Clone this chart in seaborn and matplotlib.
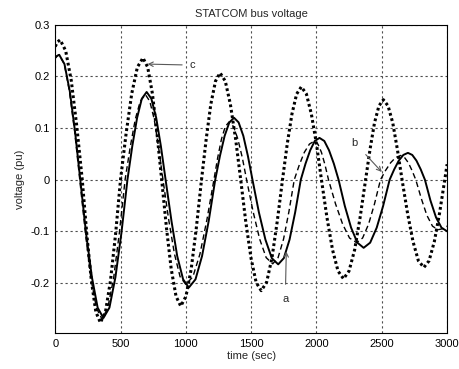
import numpy as np
import pandas as pd
import matplotlib
matplotlib.use("Agg")
import matplotlib.pyplot as plt
import seaborn as sns

# ---- data ----
t_a = [0, 15, 31, 71, 112, 152, 192, 236, 281, 325, 369, 415, 461, 507, 553, 590, 627, 663, 700,
       736, 773, 809, 845, 890, 934, 979, 1023, 1074, 1124, 1175, 1225, 1261, 1297, 1333, 1369,
       1404, 1440, 1475, 1510, 1559, 1609, 1658, 1707, 1750, 1794, 1837, 1880, 1916, 1952, 1987, 2023,
       2060, 2096, 2133, 2169, 2217, 2265, 2313, 2361, 2411, 2461, 2510, 2560, 2595, 2630, 2665, 2700,
       2733, 2765, 2798, 2830, 2872, 2915, 2957, 3000]
v_a = [0.236, 0.240, 0.242, 0.224, 0.171, 0.093, 0.0, -0.103, -0.189, -0.248, -0.268, -0.248, -0.189, -0.103, 0.0,
       0.065, 0.120, 0.157, 0.170, 0.157, 0.120, 0.065, 0.0, -0.080, -0.148, -0.193, -0.209, -0.193, -0.148, -0.080, 0.0,
       0.046, 0.085, 0.111, 0.120, 0.111, 0.085, 0.046, 0.0, -0.063, -0.116, -0.152, -0.164, -0.152, -0.116, -0.063, 0.0,
       0.031, 0.057, 0.075, 0.081, 0.075, 0.057, 0.031, 0.0, -0.051, -0.093, -0.122, -0.132, -0.122, -0.093, -0.051, 0.0,
       0.020, 0.037, 0.048, 0.052, 0.048, 0.037, 0.020, 0.0, -0.040, -0.073, -0.093, -0.100]

t_b = [0, 15, 30, 70, 109, 149, 188, 231, 273, 316, 358, 402, 447, 491, 535, 574, 613, 651, 690,
       724, 758, 791, 825, 869, 913, 956, 1000, 1054, 1108, 1161, 1215, 1244, 1273, 1302, 1331,
       1365, 1398, 1432, 1465, 1515, 1565, 1615, 1665, 1706, 1748, 1789, 1830, 1869, 1907, 1946, 1984,
       2011, 2038, 2065, 2092, 2146, 2200, 2253, 2307, 2353, 2399, 2444, 2490, 2529, 2568, 2606, 2645,
       2674, 2703, 2731, 2760, 2803, 2845, 2888, 2930, 2965, 3000]
v_b = [0.236, 0.240, 0.242, 0.224, 0.171, 0.093, 0.0, -0.103, -0.191, -0.249, -0.270, -0.249, -0.191, -0.103, 0.0,
       0.063, 0.117, 0.152, 0.165, 0.152, 0.117, 0.063, 0.0, -0.078, -0.144, -0.188, -0.203, -0.188, -0.144, -0.078, 0.0,
       0.043, 0.079, 0.103, 0.112, 0.103, 0.079, 0.043, 0.0, -0.062, -0.115, -0.151, -0.163, -0.151, -0.115, -0.062, 0.0,
       0.029, 0.053, 0.069, 0.075, 0.069, 0.053, 0.029, 0.0, -0.047, -0.086, -0.113, -0.122, -0.113, -0.086, -0.047, 0.0,
       0.018, 0.033, 0.043, 0.047, 0.043, 0.033, 0.018, 0.0, -0.037, -0.069, -0.090, -0.097, -0.095, -0.090]

t_c = [0, 18, 38, 80, 123, 165, 207, 242, 277, 311, 346, 385, 423, 462, 500, 543, 586, 629, 672,
       708, 744, 779, 815, 852, 888, 925, 961, 1001, 1041, 1080, 1120, 1156, 1191, 1227, 1262,
       1302, 1341, 1381, 1420, 1459, 1499, 1538, 1577, 1618, 1659, 1699, 1740, 1776, 1812, 1848, 1884,
       1923, 1961, 2000, 2038, 2080, 2123, 2165, 2207, 2249, 2292, 2334, 2376, 2410, 2444, 2478, 2512,
       2548, 2584, 2619, 2655, 2697, 2739, 2780, 2822, 2862, 2902, 2942, 2982, 3000]
v_c = [0.258, 0.267, 0.271, 0.250, 0.192, 0.104, 0.0, -0.106, -0.196, -0.256, -0.277, -0.256, -0.196, -0.106, 0.0,
       0.090, 0.167, 0.218, 0.236, 0.218, 0.167, 0.090, 0.0, -0.094, -0.173, -0.226, -0.245, -0.226, -0.173, -0.094, 0.0,
       0.079, 0.146, 0.191, 0.207, 0.191, 0.146, 0.079, 0.0, -0.082, -0.152, -0.199, -0.215, -0.199, -0.152, -0.082, 0.0,
       0.069, 0.127, 0.166, 0.180, 0.166, 0.127, 0.069, 0.0, -0.073, -0.136, -0.177, -0.192, -0.177, -0.136, -0.073, 0.0,
       0.059, 0.110, 0.143, 0.155, 0.143, 0.110, 0.059, 0.0, -0.065, -0.120, -0.157, -0.170, -0.157, -0.120, -0.065, 0.0,
       0.030]

x_ticks = [0, 500, 1000, 1500, 2000, 2500, 3000]
y_ticks = [-0.2, -0.1, 0, 0.1, 0.2, 0.3]
y_tick_labels = ["-0.2", "-0.1", "0", "0.1", "0.2", "0.3"]
x_tick_labels = ["0", "500", "1000", "1500", "2000", "2500", "3000"]

title = "STATCOM bus voltage"
xlabel = "time (sec)"
ylabel = "voltage (pu)"

df_a = pd.DataFrame({"t": t_a, "v": v_a})
df_b = pd.DataFrame({"t": t_b, "v": v_b})
df_c = pd.DataFrame({"t": t_c, "v": v_c})

sns.set_style("white")
plt.rcParams["font.family"] = ["Liberation Sans", "DejaVu Sans"]

fig = plt.figure(figsize=(4.6, 3.69), dpi=100)
ax = fig.add_axes([0.12, 0.0976, 0.852, 0.835])

sns.lineplot(data=df_c, x="t", y="v", ax=ax, color="black", linewidth=2.2,
             estimator=None, sort=False)
ax.lines[-1].set_dashes((0.9, 0.9))
sns.lineplot(data=df_b, x="t", y="v", ax=ax, color="black", linewidth=1.0,
             estimator=None, sort=False)
ax.lines[-1].set_dashes((4, 2.5))
sns.lineplot(data=df_a, x="t", y="v", ax=ax, color="black", linewidth=1.4,
             estimator=None, sort=False)

ax.set_xlim(0, 3000)
ax.set_ylim(-0.297, 0.3)
ax.set_xticks(x_ticks)
ax.set_xticklabels(x_tick_labels)
ax.set_yticks(y_ticks)
ax.set_yticklabels(y_tick_labels)
ax.grid(True, color="0.3", linestyle=(0, (2, 2.5)), linewidth=0.8)
ax.set_axisbelow(True)
for s in ax.spines.values():
    s.set_color("black")
    s.set_linewidth(0.8)
ax.tick_params(axis="both", direction="in", length=3, labelsize=8, colors="black", pad=4)

ax.set_title(title, fontsize=8, pad=6)
ax.set_xlabel(xlabel, fontsize=8, labelpad=2)
ax.set_ylabel(ylabel, fontsize=8, labelpad=4)

arrow_kw = dict(arrowstyle="->", color="0.35", lw=0.8, shrinkA=0, shrinkB=0,
                mutation_scale=8)
ax.annotate("c", xy=(707, 0.224), xytext=(1050, 0.222), fontsize=8,
            ha="center", va="center", arrowprops=dict(arrow_kw, shrinkA=3))
ax.annotate("b", xy=(2500, 0.015), xytext=(2292, 0.072), fontsize=8,
            ha="center", va="center", arrowprops=dict(arrow_kw, shrinkA=5))
ax.annotate("a", xy=(1769, -0.139), xytext=(1761, -0.232), fontsize=8,
            ha="center", va="center", arrowprops=dict(arrow_kw, shrinkA=5))

fig.savefig("out.png", dpi=100)
